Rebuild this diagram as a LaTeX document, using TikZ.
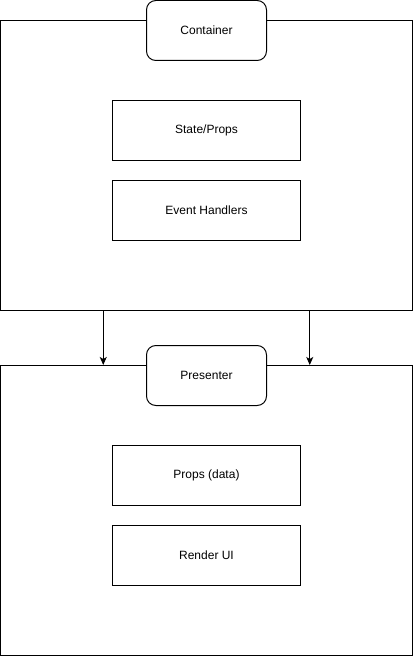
\documentclass[tikz,border=0pt]{standalone}
\usepackage{fontspec}
\setsansfont{Liberation Sans}
\usetikzlibrary{arrows.meta,positioning,calc}

\begin{document}
\begin{tikzpicture} %
		[
			x=0.75pt, y=-0.75pt,
			font={\sffamily\fontsize{9}{11}\selectfont},
			line width=0.75pt,
			frame/.style={
				draw,
				rectangle,
				minimum width=309pt,
				minimum height=217.5pt,
				inner sep=0,
			},
			title/.style={
				draw,
				fill=white,
				rounded corners=7pt,
				minimum width=90pt,
				minimum height=45pt,
			},
			part/.style={
				draw,
				fill=white,
				minimum width=141pt,
				minimum height=45pt,
			},
			arch/.style={-{Stealth[length=6pt,width=5.2pt,inset=1.5pt]}},
		]
		\useasboundingbox (0,0) rectangle (413,656);
		% container side
		\node[frame] (cont) at (206.5,165.5) {};
		\node[title] (contTitle) at (206.5,30.5) {Container};
		\node[part] (state) at (206.5,130.5) {State/Props};
		\node[part, below =14pt of state] (events) {Event Handlers};
		
		% presenter side
		\node[frame] (pres) at (206.5,510.5) {};
		\node[part] (props) at (206.5,475.5) {Props (data)};
		\node[part, below =14pt of props] (render) {Render UI};
		
		\draw[arch] ($(cont.south west)!.25!(cont.south east)$) -- ($(pres.north west)!.25!(pres.north east)$);
		\draw[arch] ($(cont.south west)!.75!(cont.south east)$) -- ($(pres.north west)!.75!(pres.north east)$);
		
		\node[title] (presTitle) at (206.5,375.5) {Presenter};
	\end{tikzpicture}
\end{document}
